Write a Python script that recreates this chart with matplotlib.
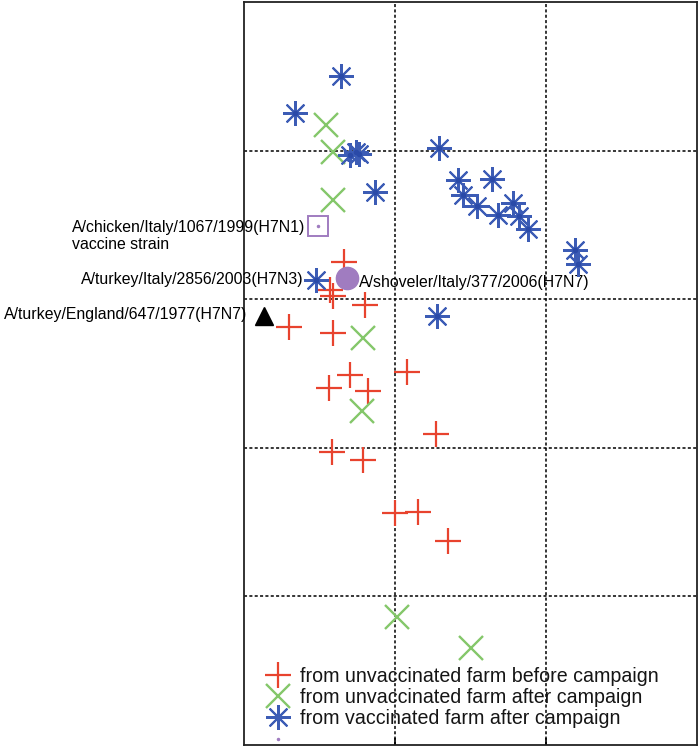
import matplotlib
matplotlib.use("Agg")
import matplotlib.pyplot as plt
from matplotlib.lines import Line2D

# antigenic map coordinates (grid units)
before_x = [0.66, 0.57, 0.59, 0.80, 0.30, 0.59, 0.70, 0.56, 0.82, 1.08, 1.27, 0.58, 0.79, 1.00, 1.15, 1.35]
before_y = [3.25, 3.06, 3.02, 2.96, 2.81, 2.77, 2.49, 2.40, 2.38, 2.51, 2.09, 1.97, 1.92, 1.56, 1.57, 1.37]

after_x = [0.54, 0.59, 0.59, 0.79, 0.78, 1.01, 1.50]
after_y = [4.17, 3.99, 3.67, 2.74, 2.25, 0.86, 0.65]

vacc_x = [0.64, 0.34, 0.70, 0.74, 0.76, 0.87, 1.29, 1.42, 1.64, 1.45, 1.54, 1.68, 1.78, 1.82, 1.88,
          2.19, 2.21, 0.48, 1.28]
vacc_y = [4.50, 4.25, 3.97, 3.99, 3.98, 3.72, 4.02, 3.80, 3.81, 3.70, 3.63, 3.57, 3.65, 3.56, 3.47,
          3.33, 3.24, 3.13, 2.89]

vaccine_strain = (0.49, 3.49)
shoveler = (0.68, 3.14)
england = (0.13, 2.89)
turkey_italy = (vacc_x[17], vacc_y[17])

labels = ["from unvaccinated farm before campaign",
          "from unvaccinated farm after campaign",
          "from vaccinated farm after campaign",
          ""]

RED = "#e8432e"
GREEN = "#84c76a"
BLUE = "#3c5cb5"
PURPLE = "#a07cc0"
ASTER = (8, 2, 0)

lab_font = ["Liberation Sans", "DejaVu Sans"]
lab_size = 11.4

fig = plt.figure(figsize=(7, 7.47), dpi=100)
ax = fig.add_axes([0.3486, 0.0027, 0.6471, 0.9946])

ax.plot(before_x, before_y, ls="none", marker="+", ms=19, mew=1.6, color=RED, zorder=3)
ax.plot(after_x, after_y, ls="none", marker="x", ms=17, mew=1.7, color=GREEN, zorder=3)
ax.plot(vacc_x, vacc_y, ls="none", marker=ASTER, ms=18, mew=1.5, color=BLUE, zorder=4)
ax.plot(vacc_x, vacc_y, ls="none", marker="o", ms=3, color="#2a4aa8", zorder=4)

ax.plot(*vaccine_strain, marker="s", ms=15, mfc="none", mec=PURPLE, mew=1.4, clip_on=False, zorder=5)
ax.plot(*vaccine_strain, marker="o", ms=1.5, color=PURPLE, zorder=5)
ax.plot(*shoveler, marker="o", ms=16, color=PURPLE, mec=PURPLE, zorder=5)
ax.plot(*england, marker="^", ms=13, color="black", clip_on=False, zorder=5)

ax.annotate("A/chicken/Italy/1067/1999(H7N1)\nvaccine strain", vaccine_strain,
            xytext=(-9, -7), textcoords="offset points", ha="right", va="center",
            multialignment="left", fontsize=lab_size, family=lab_font, linespacing=1.15,
            annotation_clip=False)
ax.annotate("A/turkey/Italy/2856/2003(H7N3)", turkey_italy,
            xytext=(-9, 0), textcoords="offset points", ha="right", va="center",
            fontsize=lab_size, family=lab_font, annotation_clip=False)
ax.annotate("A/shoveler/Italy/377/2006(H7N7)", shoveler,
            xytext=(9, -3), textcoords="offset points", ha="left", va="center",
            fontsize=lab_size, family=lab_font)
ax.annotate("A/turkey/England/647/1977(H7N7)", england,
            xytext=(-12, 1), textcoords="offset points", ha="right", va="center",
            fontsize=lab_size, family=lab_font, annotation_clip=False)

ax.set_xlim(0, 3)
ax.set_ylim(0, 5)
ax.set_xticks([1, 2])
ax.set_yticks([1, 2, 3, 4])
ax.tick_params(direction="in", length=5, width=1.2, labelbottom=False, labelleft=False, left=False)
ax.grid(True, color="black", ls=(0, (2, 1.5)), lw=1.1)
for s in ax.spines.values():
    s.set_linewidth(1.3)
    s.set_color("#222222")

handles = [
    Line2D([], [], ls="none", marker="+", ms=19, mew=1.6, color=RED),
    Line2D([], [], ls="none", marker="x", ms=17, mew=1.7, color=GREEN),
    Line2D([], [], ls="none", marker=ASTER, ms=18, mew=1.5, color=BLUE),
    Line2D([], [], ls="none", marker="o", ms=1.5, color=PURPLE),
]
leg = ax.legend(handles, labels, loc="lower left", bbox_to_anchor=(0.024, -0.022), frameon=False,
                handlelength=1.2, handletextpad=0.5, labelspacing=0.12, borderaxespad=0.2,
                prop={"family": "Liberation Sans", "size": 14.1})
for t in leg.get_texts():
    t.set_color("#151515")

fig.savefig("out.png", dpi=100)
